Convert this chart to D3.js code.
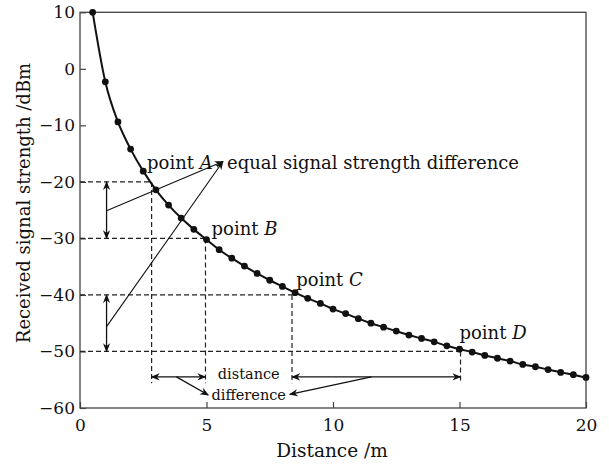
<!DOCTYPE html>
<html>
<head>
<meta charset="utf-8">
<script src="https://cdn.jsdelivr.net/npm/d3@7/dist/d3.min.js"></script>
<style>
  html, body { margin: 0; padding: 0; background: #fff; }
  svg { display: block; font-family: "DejaVu Serif", serif; }
</style>
</head>
<body>
<svg id="chart" width="609" height="465"></svg>
<script>
// ---- data ----
const distances = [0.5,1,1.5,2,2.5,3,3.5,4,4.5,5,5.5,6,6.5,7,7.5,8,8.5,9,9.5,10,
                   10.5,11,11.5,12,12.5,13,13.5,14,14.5,15,15.5,16,16.5,17,17.5,18,18.5,19,19.5,20];
const rss = [10,-2.3,-9.4,-14.2,-18.1,-21.4,-24.1,-26.4,-28.4,-30.2,
             -32.0,-33.5,-34.9,-36.2,-37.4,-38.5,-39.6,-40.6,-41.5,-42.5,
             -43.3,-44.2,-45.0,-45.7,-46.4,-47.1,-47.7,-48.3,-49.0,-49.6,
             -50.1,-50.7,-51.2,-51.7,-52.3,-52.7,-53.2,-53.7,-54.1,-54.6];
const xTicks = [0,5,10,15,20];
const yTicks = [10,0,-10,-20,-30,-40,-50,-60];
const pointNames = ["A","B","C","D"];
const guideLevels = [-20,-30,-40,-50];        // signal levels of points A-D
const guideDist = [2.83,4.96,8.38,15.04];     // distances of points A-D
const labelPos = [[2.65,-17.8],[5.2,-29.4],[8.55,-38.4],[15.0,-47.8]]; // point label anchors (data units)
const guideBottom = -55.6;
const distArrowLevel = -54.5;
const levelArrowDist = 1.05;
const eqTarget = [5.65,-16.4];
const eqSources = [[1.05,-25.1],[1.05,-45.6]];
const diffPointers = [[[3.81,-54.5],[5.07,-57.7]],[[11.52,-54.5],[8.29,-57.6]]];

// ---- layout ----
const svg = d3.select("#chart");
const x = d3.scaleLinear().domain([0,20]).range([80,586]);
const y = d3.scaleLinear().domain([-60,10]).range([408,12.3]);

// markers
const defs = svg.append("defs");
defs.append("marker").attr("id","arr").attr("viewBox","0 -5 10 10")
  .attr("refX",9).attr("refY",0).attr("markerWidth",9).attr("markerHeight",9)
  .attr("markerUnits","userSpaceOnUse").attr("orient","auto-start-reverse")
  .append("path").attr("d","M0,-4L10,0L0,4L3,0Z").attr("fill","#111");

// frame
svg.append("rect").attr("x",x(0)).attr("y",y(10))
  .attr("width",x(20)-x(0)).attr("height",y(-60)-y(10))
  .attr("fill","none").attr("stroke","#444").attr("stroke-width",1.3);

// axes
const gx = svg.append("g").attr("transform",`translate(0,${y(-60)})`)
  .call(d3.axisBottom(x).tickValues(xTicks).tickSizeInner(-6).tickSizeOuter(0).tickPadding(11));
const gy = svg.append("g").attr("transform",`translate(${x(0)},0)`)
  .call(d3.axisLeft(y).tickValues(yTicks).tickSizeInner(-6).tickSizeOuter(0).tickPadding(5));
[gx,gy].forEach(g=>{
  g.select(".domain").remove();
  g.selectAll("line").attr("stroke","#444").attr("stroke-width",1.2);
  g.selectAll("text").attr("font-family","DejaVu Serif").attr("font-size",17).attr("fill","#111");
});

// axis titles
svg.append("text").attr("x",332).attr("y",457).attr("text-anchor","middle")
  .attr("font-size",18.5).attr("fill","#111").text("Distance /m");
svg.append("text").attr("transform",`translate(30,203) rotate(-90)`).attr("text-anchor","middle")
  .attr("font-size",18).attr("fill","#111").text("Received signal strength /dBm");

// dashed guides
const dash = svg.append("g").attr("stroke","#222").attr("stroke-width",1.2)
  .attr("stroke-dasharray","5,3").attr("fill","none");
guideLevels.forEach((lv,i)=>{
  dash.append("line").attr("x1",x(0)).attr("x2",x(guideDist[i])).attr("y1",y(lv)).attr("y2",y(lv));
  dash.append("line").attr("x1",x(guideDist[i])).attr("x2",x(guideDist[i])).attr("y1",y(lv)).attr("y2",y(guideBottom));
});

// curve + points
const data = distances.map((d,i)=>({d, v: rss[i]}));
svg.append("path").datum(data)
  .attr("d", d3.line().x(p=>x(p.d)).y(p=>y(p.v)).curve(d3.curveMonotoneX))
  .attr("fill","none").attr("stroke","#111").attr("stroke-width",2);
svg.append("g").selectAll("circle").data(data).join("circle")
  .attr("cx",p=>x(p.d)).attr("cy",p=>y(p.v)).attr("r",3.4).attr("fill","#111");

// annotation arrows
const ann = svg.append("g").attr("stroke","#111").attr("fill","none");
[[0,1],[2,3]].forEach(([a,b])=>{
  ann.append("line").attr("x1",x(levelArrowDist)).attr("x2",x(levelArrowDist))
    .attr("y1",y(guideLevels[a])).attr("y2",y(guideLevels[b])).attr("stroke-width",1.3)
    .attr("marker-start","url(#arr)").attr("marker-end","url(#arr)");
});
[[0,1],[2,3]].forEach(([a,b])=>{
  ann.append("line").attr("x1",x(guideDist[a])).attr("x2",x(guideDist[b]))
    .attr("y1",y(distArrowLevel)).attr("y2",y(distArrowLevel)).attr("stroke-width",1.3)
    .attr("marker-start","url(#arr)").attr("marker-end","url(#arr)");
});
eqSources.forEach(s=>{
  ann.append("line").attr("x1",x(s[0])).attr("y1",y(s[1]))
    .attr("x2",x(eqTarget[0])).attr("y2",y(eqTarget[1])).attr("stroke-width",1.1)
    .attr("marker-end","url(#arr)");
});
diffPointers.forEach(([s,t])=>{
  ann.append("line").attr("x1",x(s[0])).attr("y1",y(s[1]))
    .attr("x2",x(t[0])).attr("y2",y(t[1])).attr("stroke-width",1.3)
    .attr("marker-end","url(#arr)");
});

// point labels
pointNames.forEach((n,i)=>{
  const t = svg.append("text").attr("x",x(labelPos[i][0])).attr("y",y(labelPos[i][1]))
    .attr("font-size",18).attr("fill","#111");
  t.append("tspan").text("point ");
  t.append("tspan").attr("font-style","italic").text(n);
});
svg.append("text").attr("x",227).attr("y",y(-17.8)).attr("font-size",18).attr("fill","#111")
  .text("equal signal strength difference");
svg.append("text").attr("x",x(6.67)).attr("y",y(-54.8)).attr("text-anchor","middle")
  .attr("font-size",14.5).attr("fill","#111").text("distance");
svg.append("text").attr("x",x(6.67)).attr("y",y(-58.5)).attr("text-anchor","middle")
  .attr("font-size",14.5).attr("fill","#111").text("difference");
</script>
</body>
</html>
